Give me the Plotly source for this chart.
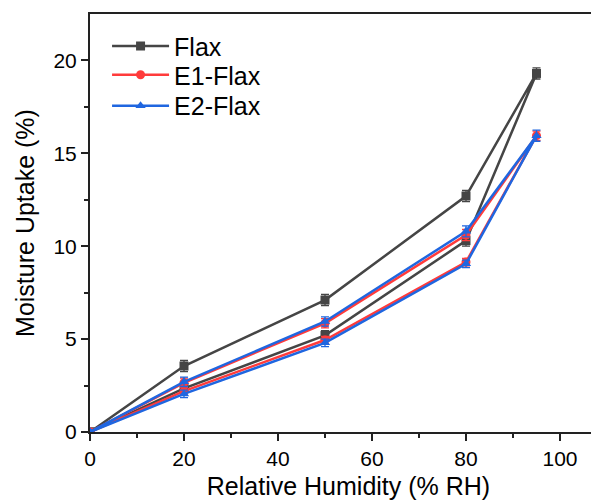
import plotly.graph_objects as go

rh = [0, 20, 50, 80, 95, 80, 50, 20, 0]
flax = [0, 2.35, 5.2, 10.3, 19.3, 12.7, 7.1, 3.55, 0]
flax_err = [0.1, 0.2, 0.25, 0.3, 0.3, 0.3, 0.3, 0.3, 0.1]
e1 = [0, 2.2, 4.95, 9.15, 15.95, 10.6, 5.85, 2.65, 0]
e1_err = [0.1, 0.2, 0.2, 0.2, 0.25, 0.3, 0.25, 0.25, 0.1]
e2 = [0, 2.05, 4.8, 9.05, 15.95, 10.8, 5.95, 2.7, 0]
e2_err = [0.1, 0.2, 0.2, 0.2, 0.3, 0.3, 0.25, 0.25, 0.1]

series = [
    ("Flax", flax, flax_err, "#454545", "square", "legend", 0.923),
    ("E1-Flax", e1, e1_err, "#ff3b3b", "circle", "legend2", 0.854),
    ("E2-Flax", e2, e2_err, "#1f66e0", "triangle-up", "legend3", 0.780),
]

font = "Arial, Liberation Sans, sans-serif"
fig = go.Figure()
legends = {}
for name, y, err, color, sym, leg, ly in series:
    fig.add_trace(go.Scatter(
        x=rh, y=y, name=name, mode="lines+markers", legend=leg,
        line=dict(color=color, width=2.5),
        marker=dict(symbol=sym, size=9, color=color),
        error_y=dict(type="data", array=err, visible=True, color=color, thickness=1.3, width=4),
    ))
    legends[leg] = dict(x=0.033, y=ly, xanchor="left", yanchor="middle",
                        bgcolor="rgba(0,0,0,0)", font=dict(size=25, family=font),
                        itemwidth=57)

fig.update_layout(
    width=599, height=504,
    margin=dict(l=82, r=0, t=6, b=80, autoexpand=False),
    paper_bgcolor="white", plot_bgcolor="white",
    font=dict(family=font, size=21, color="black"),
    showlegend=True,
    **legends,
    xaxis=dict(
        range=[0, 110], tickvals=[0, 20, 40, 60, 80, 100],
        showline=True, linecolor="#222", linewidth=2, mirror=True,
        ticks="outside", ticklen=7, tickwidth=2, tickcolor="#222",
        minor=dict(tickvals=[10, 30, 50, 70, 90], ticks="outside", ticklen=4, tickwidth=2, tickcolor="#222"),
        showgrid=False, zeroline=False,
        title=dict(text="Relative Humidity (% RH)", font=dict(size=25), standoff=8),
        tickfont=dict(size=21),
    ),
    yaxis=dict(
        range=[0, 22.5], tickvals=[0, 5, 10, 15, 20],
        showline=True, linecolor="#222", linewidth=2, mirror=False,
        ticks="outside", ticklen=7, tickwidth=2, tickcolor="#222",
        minor=dict(tickvals=[2.5, 7.5, 12.5, 17.5], ticks="outside", ticklen=4, tickwidth=2, tickcolor="#222"),
        showgrid=False, zeroline=False,
        title=dict(text="Moisture Uptake (%)", font=dict(size=25), standoff=12),
        tickfont=dict(size=21),
    ),
)

fig.write_html("out.html")
